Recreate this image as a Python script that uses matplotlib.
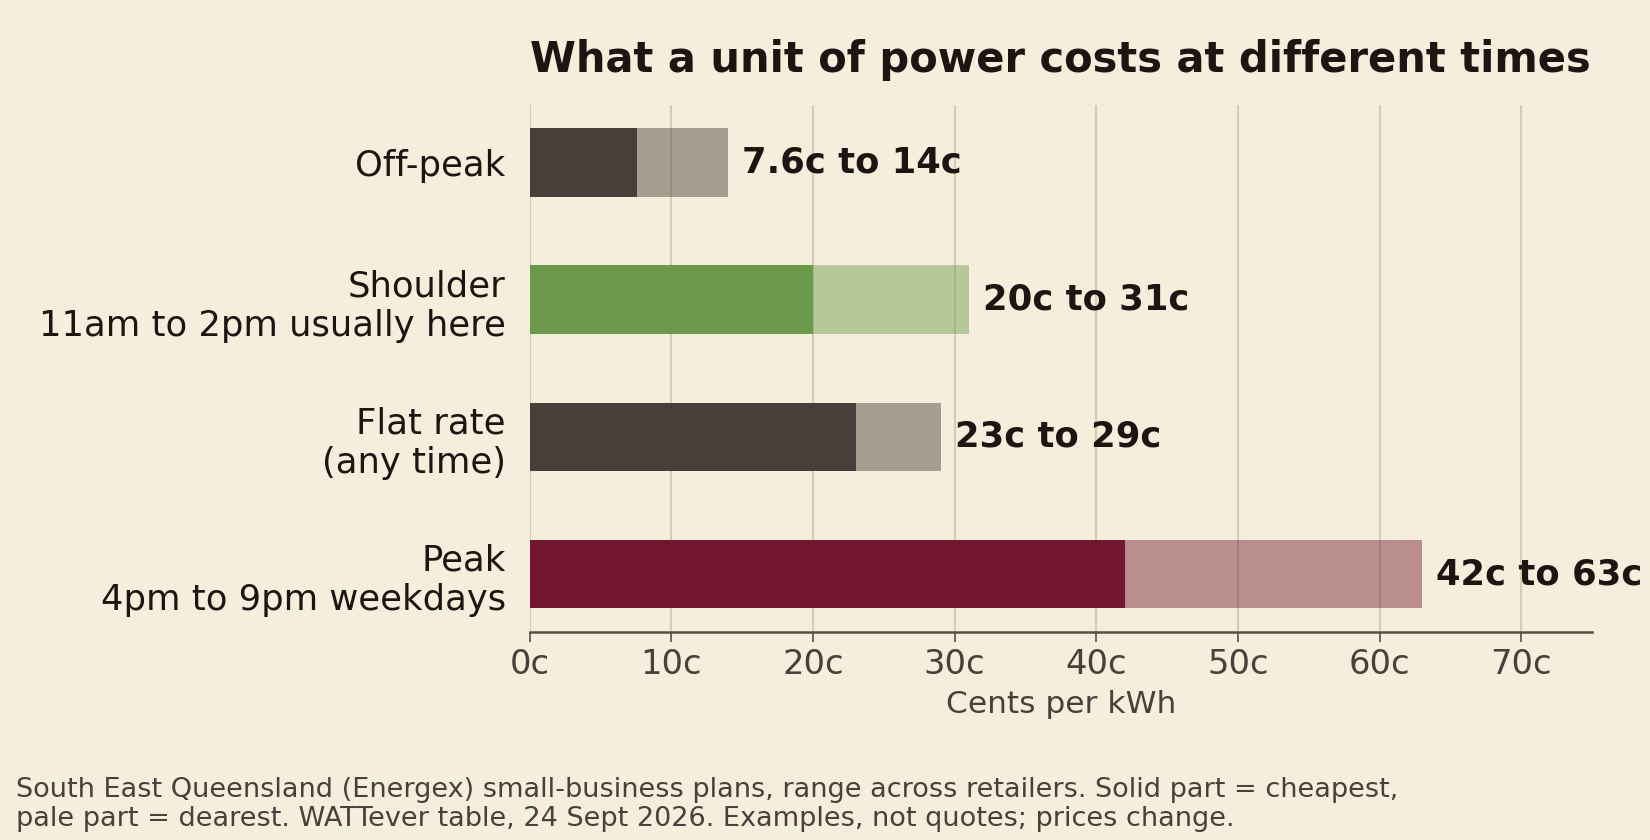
import matplotlib
matplotlib.use('Agg')
import matplotlib.pyplot as plt

# tariff bands, c/kWh (cheapest .. dearest)
labels = ['Off-peak', 'Shoulder\n11am to 2pm usually here', 'Flat rate\n(any time)', 'Peak\n4pm to 9pm weekdays']
low = [7.6, 20, 23, 42]
high = [14, 31, 29, 63]
range_text = ['7.6c to 14c', '20c to 31c', '23c to 29c', '42c to 63c']
colors = ['#493e39', '#6b994a', '#493e39', '#72172f']

bg = '#f5eedc'
ink = '#1e1512'
soft = '#4a3f3a'

fig = plt.figure(figsize=(11, 5.6), dpi=150)
fig.patch.set_facecolor(bg)
ax = fig.add_axes([0.321, 0.248, 0.644, 0.627])
ax.set_facecolor(bg)

ypos = list(range(len(labels)))
ax.barh(ypos, high, height=0.5, color=colors, alpha=0.45, linewidth=0, zorder=2)
ax.barh(ypos, low, height=0.5, color=colors, linewidth=0, zorder=3)

for y, h, t in zip(ypos, high, range_text):
    ax.text(h + 1, y, t, va='center', ha='left', fontsize=17, fontweight='bold', color=ink)

ax.set_xlim(0, 75)
ax.set_ylim(3.42, -0.42)
ax.set_yticks(ypos)
ax.set_yticklabels(labels, fontsize=17, color=ink)
ax.tick_params(axis='y', length=0, pad=11.5)
xt = list(range(0, 80, 10))
ax.set_xticks(xt)
ax.set_xticklabels([f'{v}c' for v in xt], fontsize=16.2, color=soft)
ax.tick_params(axis='x', length=5, color='#5a4e46', pad=3)
ax.set_xlabel('Cents per kWh', fontsize=15, color=soft, labelpad=4)

ax.grid(axis='x', color='#d8ccb0', linewidth=1.0, zorder=1)
ax.set_axisbelow(True)
for s in ['top', 'right', 'left']:
    ax.spines[s].set_visible(False)
ax.spines['bottom'].set_color('#5a4e46')
ax.spines['bottom'].set_linewidth(1.2)

ax.set_title('What a unit of power costs at different times', loc='left',
             fontsize=20, fontweight='bold', color=ink, pad=16)

fig.text(0.01, 0.01,
         'South East Queensland (Energex) small-business plans, range across retailers. Solid part = cheapest,\n'
         'pale part = dearest. WATTever table, 24 Sept 2026. Examples, not quotes; prices change.',
         fontsize=13, color=soft, ha='left', va='bottom', linespacing=1.15)

fig.savefig('out.png', dpi=150, facecolor=bg)
